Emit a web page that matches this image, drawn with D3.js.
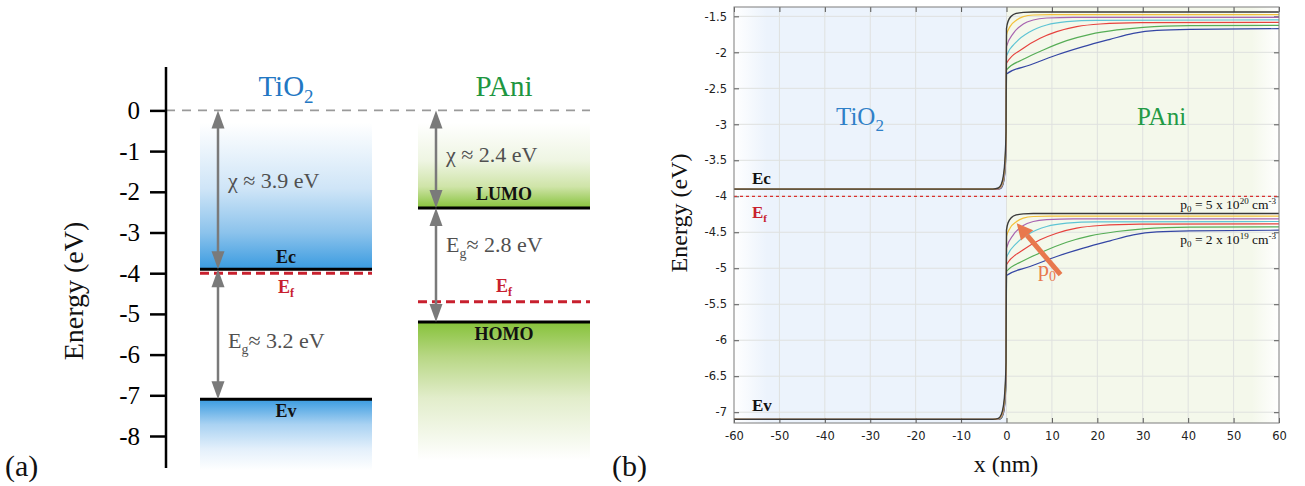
<!DOCTYPE html>
<html>
<head>
<meta charset="utf-8">
<script src="https://cdn.jsdelivr.net/npm/d3@7"></script>
<style>
  body { margin: 0; background: #fff; }
  svg { display: block; }
  .serif { font-family: "Liberation Serif", "Times New Roman", serif; }
  .sans { font-family: "DejaVu Sans", "Liberation Sans", sans-serif; }
</style>
</head>
<body>
<svg id="chart" width="1305" height="486"></svg>
<script>
// ---------- Panel (a): flat-band energy diagram ----------
const materials = ["TiO2", "PAni"];
const affinity = [3.9, 2.4];          // χ (eV)
const gapA = [3.2, 2.8];              // Eg (eV)
const fermiA = [-4.0, -4.7];          // Ef (eV)
const upperLevelNames = ["Ec", "LUMO"];
const lowerLevelNames = ["Ev", "HOMO"];
const energyTicksA = [0, -1, -2, -3, -4, -5, -6, -7, -8];

// ---------- Panel (b): simulated band bending ----------
const xTicksB = [-60, -50, -40, -30, -20, -10, 0, 10, 20, 30, 40, 50, 60];
const yTicksB = [-1.5, -2, -2.5, -3, -3.5, -4, -4.5, -5, -5.5, -6, -6.5, -7];
const fermiB = -4.0;
const curveColors = ["#3a3a3a", "#f3c13a", "#a864b0", "#5ec4d4", "#e6423e", "#56ad56", "#3446a4"];

// TiO2 side (x in nm), one row per doping level, highest doping first
const xTiO2 = [-60, -3, -1.8, -1.2, -0.7, -0.35, -0.1];
const ecTiO2 = [
  [-3.9, -3.9, -3.885, -3.84, -3.72, -3.5, -3.1],
  [-3.9, -3.9, -3.89, -3.855, -3.75, -3.55, -3.15],
  [-3.9, -3.9, -3.893, -3.865, -3.77, -3.58, -3.2],
  [-3.9, -3.9, -3.895, -3.872, -3.785, -3.61, -3.24],
  [-3.9, -3.9, -3.897, -3.878, -3.8, -3.63, -3.28],
  [-3.9, -3.9, -3.898, -3.883, -3.81, -3.65, -3.31],
  [-3.9, -3.9, -3.899, -3.887, -3.82, -3.67, -3.34]
];
const evTiO2 = [
  [-7.1, -7.1, -7.085, -7.04, -6.92, -6.7, -6.3],
  [-7.1, -7.1, -7.09, -7.055, -6.95, -6.75, -6.35],
  [-7.1, -7.1, -7.093, -7.065, -6.97, -6.78, -6.4],
  [-7.1, -7.1, -7.095, -7.072, -6.985, -6.81, -6.44],
  [-7.1, -7.1, -7.097, -7.078, -7.0, -6.83, -6.48],
  [-7.1, -7.1, -7.098, -7.083, -7.01, -6.85, -6.51],
  [-7.1, -7.1, -7.099, -7.087, -7.02, -6.87, -6.54]
];

// PAni side: [x (nm), E (eV)]
const ecPAni = [
  [[0, -1.67], [0.4, -1.56], [1.1, -1.495], [2.2, -1.458], [3.7, -1.444], [5.9, -1.439], [60, -1.439]],
  [[0, -1.76], [0.77, -1.643], [2.24, -1.55], [3.7, -1.504], [5.9, -1.481], [9.6, -1.476], [60, -1.476]],
  [[0, -1.92], [1.5, -1.736], [3.7, -1.606], [5.9, -1.55], [8.85, -1.523], [14.7, -1.513], [60, -1.513]],
  [[0, -2.05], [2.24, -1.851], [5.17, -1.713], [8.85, -1.62], [13.25, -1.574], [19.9, -1.555], [60, -1.55]],
  [[0, -2.15], [3.7, -1.944], [7.4, -1.805], [11.05, -1.713], [15.45, -1.643], [20.6, -1.606], [29.4, -1.588], [60, -1.583]],
  [[0, -2.245], [3.7, -2.097], [8.1, -1.967], [13.25, -1.838], [18.4, -1.75], [24.3, -1.689], [30.1, -1.652], [40.4, -1.629], [60, -1.625]],
  [[0, -2.30], [5.17, -2.176], [11.05, -2.037], [16.9, -1.921], [22.8, -1.819], [27.9, -1.736], [33.1, -1.694], [40.4, -1.68], [60, -1.671]]
];
const evPAni = [
  [[0, -4.47], [0.4, -4.36], [1.1, -4.295], [2.2, -4.258], [3.7, -4.244], [5.9, -4.239], [60, -4.239]],
  [[0, -4.56], [0.77, -4.443], [2.24, -4.35], [3.7, -4.304], [5.9, -4.281], [9.6, -4.276], [60, -4.276]],
  [[0, -4.72], [1.5, -4.536], [3.7, -4.406], [5.9, -4.35], [8.85, -4.323], [14.7, -4.313], [60, -4.313]],
  [[0, -4.85], [2.24, -4.651], [5.17, -4.513], [8.85, -4.42], [13.25, -4.374], [19.9, -4.355], [60, -4.35]],
  [[0, -4.95], [3.7, -4.744], [7.4, -4.605], [11.05, -4.513], [15.45, -4.443], [20.6, -4.406], [29.4, -4.388], [60, -4.383]],
  [[0, -5.045], [3.7, -4.897], [8.1, -4.767], [13.25, -4.638], [18.4, -4.55], [24.3, -4.489], [30.1, -4.452], [40.4, -4.429], [60, -4.425]],
  [[0, -5.10], [5.17, -4.976], [11.05, -4.837], [16.9, -4.721], [22.8, -4.619], [27.9, -4.536], [33.1, -4.494], [40.4, -4.48], [60, -4.471]]
];

const svg = d3.select("#chart");
const defs = svg.append("defs");

// serif text helper
function stext(parent, size, color) {
  return parent.append("text").attr("class", "serif").style("font-size", size + "px").attr("fill", color);
}

function grad(id, horizontal, stops) {
  const g = defs.append("linearGradient").attr("id", id)
    .attr("x1", 0).attr("y1", 0)
    .attr("x2", horizontal ? 1 : 0).attr("y2", horizontal ? 0 : 1);
  stops.forEach(([o, c]) => g.append("stop").attr("offset", o).attr("stop-color", c));
}
grad("tiUp", false, [[0, "#ffffff"], [0.45, "#cfe5f7"], [0.75, "#8cc3ec"], [1, "#3a9be0"]]);
grad("tiDown", false, [[0, "#3a9be0"], [0.35, "#a9d2f2"], [0.7, "#e4f0fb"], [1, "#ffffff"]]);
grad("paUp", false, [[0, "#ffffff"], [0.45, "#eef5e2"], [0.75, "#cfe4a8"], [1, "#86c23a"]]);
grad("paDown", false, [[0, "#86c23a"], [0.25, "#b8d785"], [0.55, "#e2edcb"], [1, "#ffffff"]]);
grad("bgLeft", true, [[0, "#ffffff"], [0.12, "#ecf3fc"], [1, "#ecf3fc"]]);
grad("bgRight", true, [[0, "#f4f8eb"], [0.9, "#f4f8eb"], [1, "#ffffff"]]);

// ================= Panel (a) =================
const yA = d3.scaleLinear().domain([0, -8]).range([110.4, 436]);
const xA = d3.scaleBand().domain(materials).range([200, 590]).paddingInner(0.211);
const gA = svg.append("g");
const upGrad = ["tiUp", "paUp"], downGrad = ["tiDown", "paDown"];
const fadeTop = -0.3, fadeBottom = [-8.85, -8.6];
const matColor = ["#2277c3", "#1e9641"];

// vacuum level
gA.append("line")
  .attr("x1", 166).attr("x2", xA("PAni") + xA.bandwidth())
  .attr("y1", yA(0)).attr("y2", yA(0))
  .attr("stroke", "#9a9a9a").attr("stroke-width", 1.8).attr("stroke-dasharray", "9,7");

materials.forEach((m, i) => {
  const x0 = xA(m), w = xA.bandwidth(), cx = x0 + w / 2;
  const ec = -affinity[i], ev = ec - gapA[i];
  gA.append("rect").attr("x", x0).attr("width", w)
    .attr("y", yA(fadeTop)).attr("height", yA(ec) - yA(fadeTop))
    .attr("fill", `url(#${upGrad[i]})`);
  gA.append("rect").attr("x", x0).attr("width", w)
    .attr("y", yA(ev)).attr("height", yA(fadeBottom[i]) - yA(ev))
    .attr("fill", `url(#${downGrad[i]})`);
  [ec, ev].forEach(e => gA.append("line")
    .attr("x1", x0).attr("x2", x0 + w).attr("y1", yA(e)).attr("y2", yA(e))
    .attr("stroke", "#000").attr("stroke-width", 3));
  gA.append("line")
    .attr("x1", x0).attr("x2", x0 + w).attr("y1", yA(fermiA[i])).attr("y2", yA(fermiA[i]))
    .attr("stroke", "#c8202e").attr("stroke-width", 3).attr("stroke-dasharray", "9,5");

  // material name
  const t = stext(gA, 29, matColor[i]).attr("x", cx).attr("y", 96).attr("text-anchor", "middle");
  if (m === "TiO2") {
    t.append("tspan").text("TiO");
    t.append("tspan").style("font-size", "19px").attr("dy", 7).text("2");
  } else {
    t.text(m);
  }

  // level labels
  const bold = (txt, y) => stext(gA, 18, "#111").attr("x", cx).attr("y", y).attr("text-anchor", "middle")
    .attr("font-weight", "bold").text(txt);
  bold(upperLevelNames[i], yA(ec) - (i === 0 ? 6 : 8));
  bold(lowerLevelNames[i], yA(ev) + 18);

  const ef = stext(gA, 18, "#c8202e").attr("x", cx).attr("text-anchor", "middle")
    .attr("y", i === 0 ? yA(fermiA[i]) + 20 : yA(fermiA[i]) - 10)
    .attr("font-weight", "bold");
  ef.append("tspan").text("E");
  ef.append("tspan").style("font-size", "12px").attr("dy", 4).text("f");

  // double-headed arrows
  const ax = x0 + 18;
  const arrow = (e1, e2) => {
    const y1 = yA(e1), y2 = yA(e2), hl = 18, hw = 6.5;
    gA.append("line").attr("x1", ax).attr("x2", ax).attr("y1", y1 + hl - 2).attr("y2", y2 - hl + 2)
      .attr("stroke", "#7a7a7a").attr("stroke-width", 2.5);
    gA.append("path").attr("fill", "#7a7a7a")
      .attr("d", `M${ax},${y1}L${ax - hw},${y1 + hl}L${ax + hw},${y1 + hl}Z`);
    gA.append("path").attr("fill", "#7a7a7a")
      .attr("d", `M${ax},${y2}L${ax - hw},${y2 - hl}L${ax + hw},${y2 - hl}Z`);
  };
  arrow(0, ec);
  arrow(ec, ev);
});

// χ and Eg labels
const chiLabelE = [-1.9, -1.27], gapLabelE = [-5.84, -3.48];
materials.forEach((m, i) => {
  const lx = xA(m) + 28;
  stext(gA, 22, "#505050").attr("x", lx).attr("y", yA(chiLabelE[i]))
    .text(`χ ≈ ${affinity[i]} eV`);
  const t = stext(gA, 22, "#505050").attr("x", lx).attr("y", yA(gapLabelE[i]));
  t.append("tspan").text("E");
  t.append("tspan").style("font-size", "14px").attr("dy", 6).text("g");
  t.append("tspan").attr("dy", -6).text(`≈ ${gapA[i].toFixed(1)} eV`);
});

// energy axis
const axA = gA.append("g").attr("transform", "translate(166,0)")
  .call(d3.axisLeft(yA).tickValues(energyTicksA).tickSize(16).tickPadding(10).tickFormat(d => String(d)));
axA.select(".domain").remove();
axA.selectAll(".tick line").attr("stroke", "#000").attr("stroke-width", 2.5);
axA.selectAll(".tick text").attr("class", "serif").style("font-size", "25px").attr("fill", "#000");
gA.append("line").attr("x1", 166).attr("x2", 166).attr("y1", 67).attr("y2", 468)
  .attr("stroke", "#000").attr("stroke-width", 2.5);
stext(gA, 28, "#111").attr("transform", "translate(83,291) rotate(-90)").attr("text-anchor", "middle")
  .text("Energy (eV)");
stext(gA, 30, "#111").attr("x", 5).attr("y", 476).text("(a)");

// ================= Panel (b) =================
const xB = d3.scaleLinear().domain([-60, 60]).range([734, 1279]);
const yB = d3.scaleLinear().domain([-1.37, -7.15]).range([7, 423]);
const gB = svg.append("g");
const [px0, px1] = xB.range(), [py0, py1] = yB.range();

gB.append("rect").attr("x", px0).attr("y", py0).attr("width", xB(0) - px0).attr("height", py1 - py0)
  .attr("fill", "url(#bgLeft)");
gB.append("rect").attr("x", xB(0)).attr("y", py0).attr("width", px1 - xB(0)).attr("height", py1 - py0)
  .attr("fill", "url(#bgRight)");

// grid
gB.append("g").selectAll("line").data(xTicksB.slice(1, -1)).join("line")
  .attr("x1", d => xB(d)).attr("x2", d => xB(d)).attr("y1", py0).attr("y2", py1)
  .attr("stroke", "#dfe1df").attr("stroke-width", 1);
gB.append("g").selectAll("line").data(yTicksB).join("line")
  .attr("x1", px0).attr("x2", px1).attr("y1", d => yB(d)).attr("y2", d => yB(d))
  .attr("stroke", "#dfe1df").attr("stroke-width", 1);

// axes with inward ticks
function styleAxis(g) {
  g.select(".domain").remove();
  g.selectAll(".tick line").attr("stroke", "#555");
  g.selectAll(".tick text").attr("class", "sans").style("font-size", "11.5px").attr("fill", "#222");
}
gB.append("g").attr("transform", `translate(0,${py1})`)
  .call(d3.axisBottom(xB).tickValues(xTicksB).tickSize(-5).tickPadding(9).tickFormat(d => String(d)))
  .call(styleAxis);
gB.append("g").attr("transform", `translate(${px0},0)`)
  .call(d3.axisLeft(yB).tickValues(yTicksB).tickSize(-5).tickPadding(7).tickFormat(d => String(d)))
  .call(styleAxis);
gB.append("g").attr("transform", `translate(0,${py0})`)
  .call(d3.axisTop(xB).tickValues(xTicksB).tickSize(-5).tickFormat(""))
  .call(styleAxis);
gB.append("g").attr("transform", `translate(${px1},0)`)
  .call(d3.axisRight(yB).tickValues(yTicksB).tickSize(-5).tickFormat(""))
  .call(styleAxis);

// Fermi level
gB.append("line").attr("x1", px0).attr("x2", px1).attr("y1", yB(fermiB)).attr("y2", yB(fermiB))
  .attr("stroke", "#d8312f").attr("stroke-width", 1.3).attr("stroke-dasharray", "3,3");

// band curves
const lineB = d3.line().x(d => xB(d[0])).y(d => yB(d[1])).curve(d3.curveMonotoneX);
const order = d3.range(curveColors.length).reverse(); // lowest doping first, black on top
order.forEach(i => {
  [[ecTiO2[i], ecPAni[i]], [evTiO2[i], evPAni[i]]].forEach(([ti, pa]) => {
    const pts = xTiO2.map((x, k) => [x, ti[k]]).concat(pa);
    gB.append("path").attr("d", lineB(pts)).attr("fill", "none")
      .attr("stroke", curveColors[i]).attr("stroke-width", i === 0 ? 1.4 : 1.2);
  });
});

// frame
gB.append("rect").attr("x", px0).attr("y", py0).attr("width", px1 - px0).attr("height", py1 - py0)
  .attr("fill", "none").attr("stroke", "#7d7d7d").attr("stroke-width", 1);

// labels
function boldLabel(x, y, main, sub, color) {
  const t = stext(gB, 17, color).attr("x", x).attr("y", y).attr("font-weight", "bold");
  t.append("tspan").text(main);
  if (sub) t.append("tspan").style("font-size", "11px").attr("dy", 4).text(sub);
}
boldLabel(752, 184, "Ec", null, "#111");
boldLabel(752, 218, "E", "f", "#c8202e");
boldLabel(752, 411, "Ev", null, "#111");

const tTi = stext(gB, 25, "#2f80c8").attr("x", 836).attr("y", 125);
tTi.append("tspan").text("TiO");
tTi.append("tspan").style("font-size", "17px").attr("dy", 6).text("2");
stext(gB, 25, "#229a45").attr("x", 1137).attr("y", 125).text("PAni");

function dopingLabel(y, mant, exp) {
  const t = stext(gB, 13.5, "#111").attr("x", 1276).attr("y", y).attr("text-anchor", "end");
  t.append("tspan").text("p");
  t.append("tspan").style("font-size", "9px").attr("dy", 3).text("0");
  t.append("tspan").attr("dy", -3).text(` = ${mant} x 10`);
  t.append("tspan").style("font-size", "9px").attr("dy", -5).text(exp);
  t.append("tspan").attr("dy", 5).text(" cm");
  t.append("tspan").style("font-size", "9px").attr("dy", -5).text("-3");
}
dopingLabel(209, 5, "20");
dopingLabel(244, 2, "19");

// doping trend arrow
const tail = [11.9, -5.09], tip = [2.25, -4.374];
{
  const x1 = xB(tail[0]), y1 = yB(tail[1]), x2 = xB(tip[0]), y2 = yB(tip[1]);
  const ang = Math.atan2(y2 - y1, x2 - x1), hl = 16, hw = 8;
  const bx = x2 - hl * Math.cos(ang), by = y2 - hl * Math.sin(ang);
  gB.append("line").attr("x1", x1).attr("y1", y1).attr("x2", bx).attr("y2", by)
    .attr("stroke", "#e8784d").attr("stroke-width", 5);
  const nx = -Math.sin(ang), ny = Math.cos(ang);
  gB.append("path").attr("fill", "#e8784d")
    .attr("d", `M${x2},${y2}L${bx + nx * hw},${by + ny * hw}L${bx - nx * hw},${by - ny * hw}Z`);
  const pl = stext(gB, 22, "#e8784d").attr("x", 1038).attr("y", 276);
  pl.append("tspan").text("p");
  pl.append("tspan").style("font-size", "14px").attr("dy", 5).text("0");
}

stext(gB, 24, "#111").attr("x", 1006).attr("y", 472).attr("text-anchor", "middle").text("x (nm)");
stext(gB, 24, "#111").attr("transform", "translate(687,213) rotate(-90)").attr("text-anchor", "middle")
  .text("Energy (eV)");
stext(gB, 30, "#111").attr("x", 612).attr("y", 476).text("(b)");
</script>
</body>
</html>
